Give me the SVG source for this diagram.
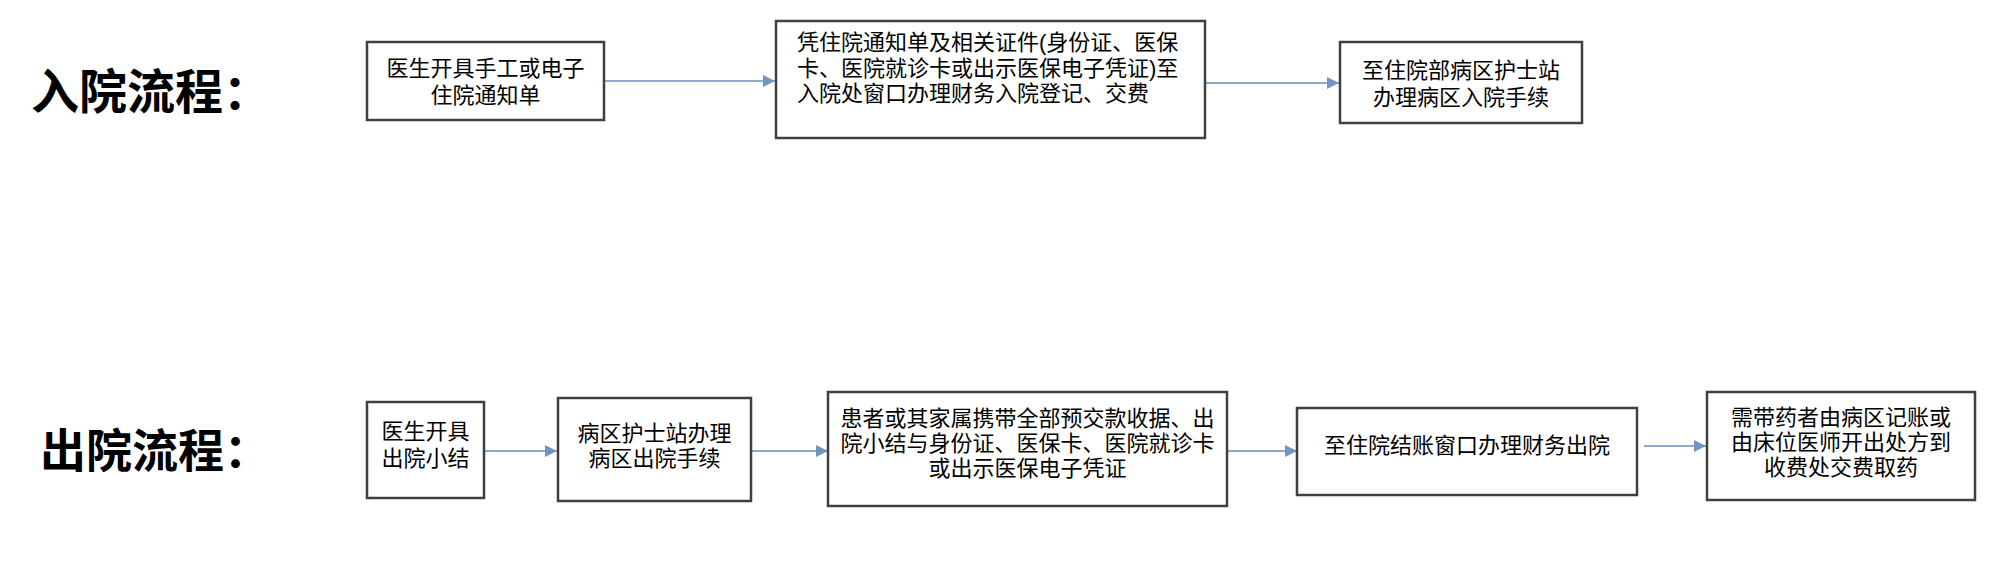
<svg xmlns="http://www.w3.org/2000/svg" width="2001" height="568" viewBox="0 0 2001 568">
<defs>
<style>
.title{font-family:"Noto Sans CJK SC","Noto Sans",sans-serif;font-weight:700;fill:#000}
.box{fill:#fff;stroke:#404040;stroke-width:2.5}
.t{font-family:"Liberation Sans","Noto Sans CJK SC",sans-serif;font-size:22px;fill:#000}
.c{text-anchor:middle}
.conn{stroke:#8eaacb;stroke-width:2;fill:none}
</style>
<marker id="ah" markerUnits="userSpaceOnUse" markerWidth="14" markerHeight="14" viewBox="0 0 14 14" refX="13" refY="7" orient="auto">
<path d="M1,1 L13,7 L1,13 Z" fill="#6f95c0"/>
</marker>
</defs>
<rect width="2001" height="568" fill="#fff"/>

<g id="title-admission"><text class="title" x="31" y="109" font-size="48">入院流程：</text></g>
<g id="title-discharge"><text class="title" x="40" y="467" font-size="46">出院流程：</text></g>

<g id="connectors">
<line class="conn" x1="605" y1="81" x2="775" y2="81" marker-end="url(#ah)"/>
<line class="conn" x1="1206" y1="83" x2="1339" y2="83" marker-end="url(#ah)"/>
<line class="conn" x1="485" y1="451" x2="557" y2="451" marker-end="url(#ah)"/>
<line class="conn" x1="752" y1="451" x2="828" y2="451" marker-end="url(#ah)"/>
<line class="conn" x1="1228" y1="451" x2="1297" y2="451" marker-end="url(#ah)"/>
<line class="conn" x1="1644" y1="446" x2="1706" y2="446" marker-end="url(#ah)"/>
</g>

<g id="a1">
<rect class="box" x="367" y="42" width="237" height="78"/>
<text class="t c"><tspan x="485.5" y="76">医生开具手工或电子</tspan><tspan x="485.5" y="103">住院通知单</tspan></text>
</g>
<g id="a2">
<rect class="box" x="776" y="21" width="429" height="117"/>
<text class="t"><tspan x="797" y="50">凭住院通知单及相关证件(身份证、医保</tspan><tspan x="797" y="76">卡、医院就诊卡或出示医保电子凭证)至</tspan><tspan x="797" y="101">入院处窗口办理财务入院登记、交费</tspan></text>
</g>
<g id="a3">
<rect class="box" x="1340" y="42" width="242" height="81"/>
<text class="t c"><tspan x="1461" y="78">至住院部病区护士站</tspan><tspan x="1461" y="105">办理病区入院手续</tspan></text>
</g>

<g id="d1">
<rect class="box" x="367" y="402" width="117" height="96"/>
<text class="t c"><tspan x="425.5" y="438.5">医生开具</tspan><tspan x="425.5" y="466">出院小结</tspan></text>
</g>
<g id="d2">
<rect class="box" x="558" y="398" width="193" height="103"/>
<text class="t c"><tspan x="654.5" y="441">病区护士站办理</tspan><tspan x="654.5" y="466">病区出院手续</tspan></text>
</g>
<g id="d3">
<rect class="box" x="828" y="392" width="399" height="114"/>
<text class="t c"><tspan x="1027.5" y="426">患者或其家属携带全部预交款收据、出</tspan><tspan x="1027.5" y="451">院小结与身份证、医保卡、医院就诊卡</tspan><tspan x="1027.5" y="476">或出示医保电子凭证</tspan></text>
</g>
<g id="d4">
<rect class="box" x="1297" y="408" width="340" height="87"/>
<text class="t c" x="1467" y="453">至住院结账窗口办理财务出院</text>
</g>
<g id="d5">
<rect class="box" x="1707" y="392" width="268" height="108"/>
<text class="t c"><tspan x="1841" y="424.5">需带药者由病区记账或</tspan><tspan x="1841" y="449.5">由床位医师开出处方到</tspan><tspan x="1841" y="474.5">收费处交费取药</tspan></text>
</g>
</svg>
